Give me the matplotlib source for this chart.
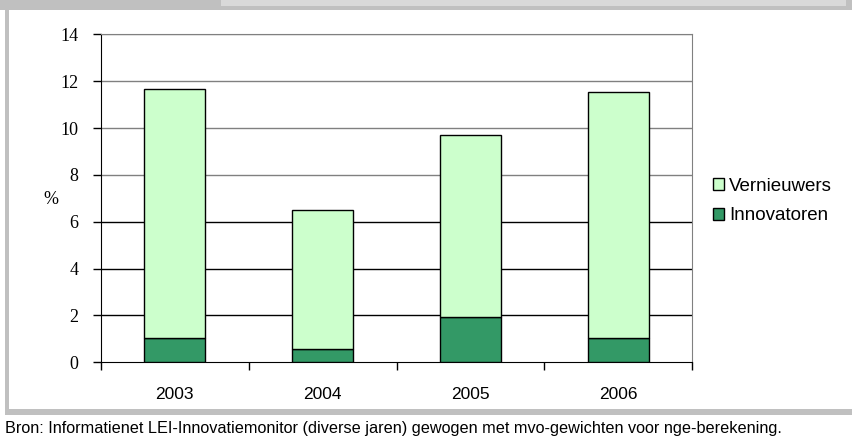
import numpy as np
import matplotlib.pyplot as plt
from matplotlib.patches import Rectangle

years = ['2003', '2004', '2005', '2006']
innovatoren = [1.05, 0.58, 1.95, 1.02]
vernieuwers = [10.6, 5.93, 7.74, 10.52]
y_ticks = [0, 2, 4, 6, 8, 10, 12, 14]
footnote = 'Bron: Informatienet LEI-Innovatiemonitor (diverse jaren) gewogen met mvo-gewichten voor nge-berekening.'

W, H = 852, 441
fig = plt.figure(figsize=(W / 100, H / 100), dpi=100)
fig.patch.set_facecolor('white')

# frame pieces around the chart
fig.patches.append(Rectangle((0, 1 - 10 / H), 1, 10 / H, transform=fig.transFigure,
                             facecolor='#c0c0c0', edgecolor='none', zorder=0))
fig.patches.append(Rectangle((221 / W, 1 - 6 / H), 625 / W, 6 / H, transform=fig.transFigure,
                             facecolor='#d9d9d9', edgecolor='none', zorder=1))
fig.patches.append(Rectangle((5 / W, 1 - 410 / H), 4 / W, 400 / H, transform=fig.transFigure,
                             facecolor='#c0c0c0', edgecolor='none', zorder=0))
fig.patches.append(Rectangle((5 / W, 1 - 415 / H), 1 - 5 / W, 6 / H, transform=fig.transFigure,
                             facecolor='#c0c0c0', edgecolor='none', zorder=0))
# tail of the cut-off title above the chart
fig.text(358 / W, 1 + 4 / H, 'y', fontsize=14, fontweight='bold', family='Liberation Sans',
         ha='center', va='baseline')

ax = fig.add_axes([100.7 / W, 1 - 362.3 / H, 591.6 / W, 328 / H])
x = np.arange(len(years))
ax.bar(x, innovatoren, width=0.41, color='#339966', edgecolor='black', linewidth=1,
       label='Innovatoren', zorder=3)
ax.bar(x, vernieuwers, width=0.41, bottom=innovatoren, color='#ccffcc', edgecolor='black',
       linewidth=1, label='Vernieuwers', zorder=3)

ax.set_xlim(-0.5, len(years) - 0.5)
ax.set_ylim(0, 14)
ax.set_yticks(y_ticks)
ax.set_yticklabels([str(v) for v in y_ticks], family='Liberation Serif', fontsize=13)
ax.set_xticks(x)
ax.set_xticklabels(years, family='Liberation Sans', fontsize=12.5)
ax.set_xticks(np.arange(-0.5, len(years)), minor=True)
ax.tick_params(axis='x', which='major', length=0, pad=18)
ax.tick_params(axis='x', which='minor', length=6, direction='out', width=1)
ax.tick_params(axis='y', length=6, direction='out', width=1, pad=10)

for v in y_ticks[1:]:
    ax.axhline(v, color='#808080' if v >= 8 else 'black', linewidth=1, zorder=1)

ax.spines['left'].set_color('black')
ax.spines['bottom'].set_color('black')
ax.spines['top'].set_color('#808080')
ax.spines['right'].set_color('#808080')

fig.text(51 / W, 1 - 200 / H, '%', family='Liberation Serif', fontsize=13, ha='center', va='center')

handles, labels = ax.get_legend_handles_labels()
leg = fig.legend(handles[::-1], labels[::-1], loc='upper left', bbox_to_anchor=(713 / W, 1 - 178 / H),
                 frameon=False, prop={'family': 'Liberation Sans', 'size': 13.5},
                 handlelength=0.6, handleheight=0.6, handletextpad=0.25, labelspacing=0.65,
                 borderpad=0, borderaxespad=0)

fig.text(5 / W, 1 - 428 / H, footnote, family='Liberation Sans', fontsize=11.7,
         ha='left', va='center')

fig.savefig('out.png', dpi=100)
